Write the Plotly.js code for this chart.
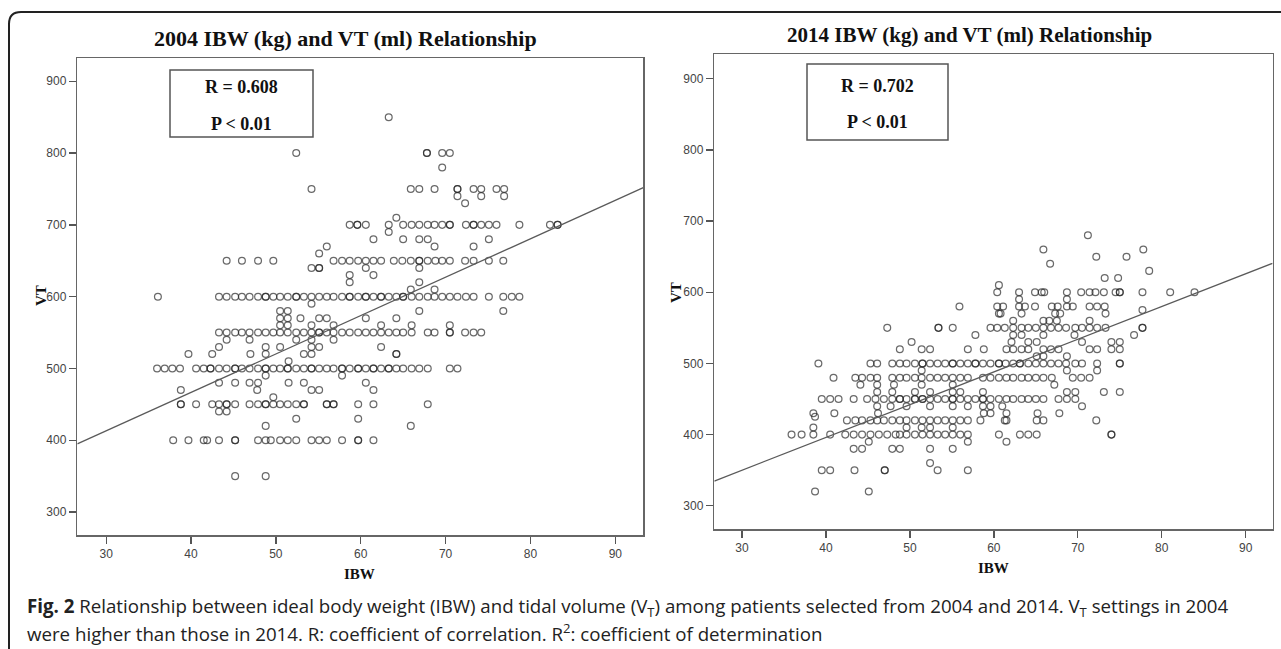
<!DOCTYPE html>
<html>
<head>
<meta charset="utf-8">
<script src="https://cdn.plot.ly/plotly-3.0.1.min.js"></script>
<style>html,body{margin:0;padding:0;background:#fff;}#chart{width:1281px;height:649px;}</style>
</head>
<body>
<div id="chart"></div>
<script>
// ---------- DATA ----------
const chartTitles = ["2004 IBW (kg) and VT (ml) Relationship", "2014 IBW (kg) and VT (ml) Relationship"];
const statR = ["R = 0.608", "R = 0.702"];
const statP = ["P < 0.01", "P < 0.01"];
const xTicks = [30, 40, 50, 60, 70, 80, 90];
const yTicks = [300, 400, 500, 600, 700, 800, 900];
const xTitle = "IBW";
const yTitle = "VT";
// fitted regression lines (intercept, slope)
const fitIntercept = [252.6, 212.0];
const fitSlope = [5.35, 4.60];

// 2004: VT levels and the IBW values found at each level
const vt2004Levels = [850, 800, 780, 750, 740, 730, 710, 700, 690, 680, 670, 660, 650, 640, 630, 620, 610, 600, 590, 580, 570, 560, 550, 540, 530, 520, 510, 500, 490, 480, 470, 460, 450, 440, 430, 420, 400, 350];
const ibw2004ByLevel = [
  [63.3],
  [52.4, 67.8, 67.8, 69.6, 70.5],
  [69.6],
  [54.2, 65.9, 66.9, 68.7, 71.4, 71.4, 73.3, 74.2, 76.0, 76.9],
  [71.4, 74.2, 76.9],
  [72.3],
  [64.2],
  [58.7, 59.6, 59.6, 60.6, 63.3, 65.0, 66.0, 66.9, 67.9, 68.7, 69.6, 70.5, 70.5, 72.4, 73.3, 73.3, 74.2, 75.1, 76.0, 78.7, 82.3, 83.2, 83.2],
  [63.3],
  [61.5, 65.0, 66.9, 67.9, 75.1],
  [56.0, 68.7, 73.3],
  [55.1],
  [44.2, 46.0, 47.9, 49.7, 56.8, 57.8, 58.7, 59.7, 60.6, 61.5, 62.4, 63.9, 64.9, 65.9, 66.9, 66.9, 67.9, 68.8, 69.6, 70.5, 72.3, 73.3, 75.1, 76.8],
  [54.2, 55.1, 55.1, 60.6, 66.9],
  [58.7, 61.5],
  [58.7, 66.9],
  [65.9, 68.7],
  [36.1, 43.3, 44.2, 45.2, 46.0, 46.9, 47.9, 48.8, 48.8, 49.7, 50.5, 51.4, 52.4, 52.4, 53.3, 54.2, 55.1, 56.0, 56.8, 57.8, 58.7, 58.7, 59.7, 60.6, 60.6, 61.5, 62.4, 62.4, 63.3, 64.2, 65.0, 65.0, 66.0, 66.9, 67.9, 68.7, 69.6, 70.5, 71.4, 72.4, 73.3, 75.1, 76.8, 77.8, 78.7],
  [54.2],
  [50.5, 51.4, 66.9, 76.8],
  [50.5, 51.4, 52.9, 55.1, 56.0, 60.6, 64.2],
  [50.5, 51.4, 54.2, 56.8, 62.4, 66.0, 70.5],
  [43.3, 44.2, 45.2, 46.0, 46.9, 47.9, 48.8, 49.7, 50.5, 51.4, 52.4, 53.3, 54.2, 55.1, 55.1, 56.0, 56.8, 57.8, 58.7, 59.7, 60.6, 61.5, 62.4, 63.3, 64.2, 65.0, 66.0, 67.9, 68.7, 70.5, 70.5, 72.3, 73.3, 74.2],
  [44.2, 46.9, 52.4, 54.2, 56.8],
  [43.3, 48.8, 50.5, 54.2, 55.1, 62.4],
  [39.7, 42.5, 47.0, 48.8, 53.3, 54.2, 64.2, 64.2],
  [51.5],
  [36.0, 36.9, 37.8, 38.7, 40.6, 41.5, 42.3, 42.3, 43.3, 44.2, 45.2, 45.2, 46.0, 46.9, 47.9, 48.8, 48.8, 49.7, 50.5, 51.4, 51.4, 52.4, 53.3, 54.2, 54.2, 55.1, 56.0, 56.8, 57.8, 57.8, 58.7, 59.7, 59.7, 60.6, 61.5, 61.5, 62.4, 63.3, 63.3, 64.2, 65.0, 66.0, 66.9, 67.9, 70.5, 71.4],
  [48.8, 57.8],
  [43.3, 45.2, 46.9, 47.9, 51.5, 53.3, 60.6],
  [38.8, 47.8, 54.2, 55.1, 61.5],
  [49.7],
  [38.8, 38.8, 40.6, 42.5, 43.3, 44.2, 44.2, 45.2, 46.9, 47.9, 48.8, 48.8, 49.7, 50.5, 51.4, 52.4, 53.3, 53.3, 56.0, 56.0, 56.8, 56.8, 59.7, 61.5, 67.9],
  [43.3, 44.2],
  [52.4, 59.7],
  [48.8, 65.9],
  [37.9, 39.7, 41.5, 41.9, 43.3, 45.2, 45.2, 47.9, 48.8, 49.4, 50.5, 51.4, 52.4, 54.2, 55.1, 56.0, 57.8, 59.7, 59.7, 61.5],
  [45.2, 48.8]
];

// 2014: VT levels and the IBW values found at each level
const vt2014Levels = [680, 660, 650, 640, 630, 620, 610, 600, 590, 580, 575, 570, 560, 550, 540, 530, 520, 510, 500, 490, 480, 470, 460, 450, 440, 430, 425, 420, 410, 400, 390, 380, 360, 350, 320];
const ibw2014ByLevel = [
  [71.2],
  [65.9, 77.8],
  [72.2, 75.8],
  [66.7],
  [78.5],
  [73.2, 74.8],
  [60.6],
  [60.4, 63.0, 64.9, 65.7, 66.0, 68.7, 70.4, 71.4, 72.1, 73.1, 74.5, 75.0, 75.0, 77.7, 81.0, 83.9],
  [63.0, 68.7],
  [55.9, 60.4, 61.1, 63.0, 63.7, 64.9, 66.9, 67.6, 68.7, 69.4, 71.4, 72.3, 73.2],
  [77.7],
  [60.6, 60.8, 63.3, 67.3, 67.9, 73.3],
  [62.3, 65.9, 66.6, 67.5, 71.4],
  [47.3, 53.4, 53.4, 55.1, 59.6, 60.4, 61.3, 62.3, 63.3, 64.1, 65.0, 65.9, 66.8, 67.7, 68.6, 69.7, 70.5, 71.4, 72.3, 73.3, 77.7, 77.7],
  [57.8, 62.3, 63.3, 65.9, 69.6, 76.7],
  [50.2, 62.1, 64.1, 65.1, 70.5, 74.0, 75.0],
  [48.8, 51.4, 52.4, 56.9, 58.8, 61.5, 62.3, 63.3, 64.1, 65.9, 66.8, 67.7, 71.4, 72.3, 74.0, 75.0],
  [65.1, 65.9, 68.7],
  [39.1, 45.3, 46.1, 47.9, 48.8, 49.6, 50.6, 51.5, 51.5, 52.4, 53.3, 54.2, 55.1, 55.1, 56.0, 56.9, 57.8, 57.8, 58.7, 59.6, 60.6, 60.6, 61.4, 62.3, 63.1, 63.1, 64.1, 65.0, 65.9, 66.8, 67.7, 68.6, 69.7, 70.5, 72.3, 75.0, 75.0],
  [51.4, 68.7, 72.3],
  [40.9, 43.5, 44.3, 45.3, 46.1, 47.9, 48.8, 49.6, 50.6, 51.4, 52.4, 53.3, 54.2, 55.1, 56.0, 56.9, 58.7, 59.6, 60.6, 61.5, 62.3, 63.3, 64.1, 65.0, 65.9, 66.9, 69.4, 70.4, 71.4],
  [44.1, 46.1, 48.1, 51.4, 55.1, 67.2],
  [46.1, 47.9, 50.6, 52.4, 55.1, 56.0, 58.7, 68.7, 69.7, 73.1, 75.0],
  [39.5, 40.5, 41.5, 43.3, 44.9, 45.9, 46.9, 47.9, 48.8, 48.8, 49.6, 50.6, 50.6, 51.5, 51.5, 52.4, 53.3, 54.2, 55.1, 55.1, 56.0, 56.9, 57.8, 58.7, 58.7, 59.6, 60.6, 61.5, 62.3, 63.3, 64.1, 65.0, 65.9, 67.7, 68.7, 69.7],
  [46.1, 47.7, 49.6, 52.4, 55.1, 56.9, 58.7, 59.6, 61.0, 70.5],
  [38.5, 41.0, 46.2, 58.8, 59.6, 61.5, 65.2, 67.8],
  [38.7],
  [42.5, 43.5, 44.3, 45.3, 46.1, 46.9, 47.9, 48.8, 49.6, 50.6, 51.5, 52.4, 53.3, 54.2, 55.1, 56.0, 56.9, 58.4, 61.3, 61.5, 65.1, 65.9, 72.2],
  [38.5, 49.6, 51.4, 52.4, 55.1],
  [35.9, 37.1, 38.5, 40.5, 42.3, 43.3, 44.3, 45.3, 46.3, 47.3, 48.3, 48.8, 49.6, 50.6, 51.5, 52.4, 53.3, 54.2, 55.1, 56.0, 56.9, 60.6, 63.1, 64.1, 65.1, 74.0, 74.0],
  [45.1, 56.9, 61.5],
  [43.3, 44.3, 47.9, 48.8, 52.4, 55.1],
  [52.4],
  [39.5, 40.5, 43.4, 47.0, 47.0, 53.3, 56.9],
  [38.7, 45.1]
];

const captionLine1 = "<b>Fig. 2</b> Relationship between ideal body weight (IBW) and tidal volume (V<sub>T</sub>) among patients selected from 2004 and 2014. V<sub>T</sub> settings in 2004";
const captionLine2 = "were higher than those in 2014. R: coefficient of correlation. R<sup>2</sup>: coefficient of determination";

// ---------- LAYOUT HELPERS ----------
const W = 1281, H = 649;
const px = v => v / W;
const py = v => 1 - v / H;

function flatten(levels, byLevel) {
  const xs = [], ys = [];
  levels.forEach((lv, i) => byLevel[i].forEach(x => { xs.push(x); ys.push(lv); }));
  return {xs, ys};
}

const d2004 = flatten(vt2004Levels, ibw2004ByLevel);
const d2014 = flatten(vt2014Levels, ibw2014ByLevel);

const xRanges = [[26.6, 93.3], [26.7, 93.2]];
const yRanges = [[268, 932], [267, 934.7]];

const markerStyle = {symbol: 'circle-open', size: 6.8, color: 'rgba(35,35,35,0.68)', line: {width: 1.25}};

const traces = [
  {type: 'scatter', mode: 'markers', x: d2004.xs, y: d2004.ys, xaxis: 'x', yaxis: 'y', marker: markerStyle, hoverinfo: 'x+y'},
  {type: 'scatter', mode: 'lines', x: xRanges[0], y: xRanges[0].map(x => fitIntercept[0] + fitSlope[0] * x), xaxis: 'x', yaxis: 'y', line: {color: '#5a5a5a', width: 1.3}},
  {type: 'scatter', mode: 'markers', x: d2014.xs, y: d2014.ys, xaxis: 'x2', yaxis: 'y2', marker: markerStyle, hoverinfo: 'x+y'},
  {type: 'scatter', mode: 'lines', x: xRanges[1], y: xRanges[1].map(x => fitIntercept[1] + fitSlope[1] * x), xaxis: 'x2', yaxis: 'y2', line: {color: '#5a5a5a', width: 1.3}}
];

const tickFont = {family: 'Liberation Sans Narrow, Arial Narrow, Liberation Sans, sans-serif', size: 12, color: '#444'};
function axis(domain, range, tickvals, anchor) {
  return {
    domain, range, tickvals, anchor, ticks: 'outside', ticklen: 7, tickwidth: 1.3, tickcolor: '#555',
    showline: true, linecolor: '#666', linewidth: 1.5, mirror: true, showgrid: false, zeroline: false,
    tickfont: tickFont, fixedrange: true
  };
}

const serif = 'Liberation Serif, Times New Roman, serif';
const ann = [];
function txt(x, y, text, size, opts) {
  ann.push(Object.assign({xref: 'paper', yref: 'paper', x: px(x), y: py(y), text, showarrow: false,
    xanchor: 'center', yanchor: 'middle', font: {family: serif, size, color: '#111'}}, opts || {}));
}
// chart titles
txt(345, 38, '<b>' + chartTitles[0] + '</b>', 22);
txt(970, 35, '<b>' + chartTitles[1] + '</b>', 21);
// stats boxes text
txt(241.5, 87, '<b>' + statR[0] + '</b>', 18);
txt(241.5, 124, '<b>' + statP[0] + '</b>', 18);
txt(877.5, 86, '<b>' + statR[1] + '</b>', 18);
txt(877.5, 122, '<b>' + statP[1] + '</b>', 18);
// axis titles
txt(359, 574, '<b>' + xTitle + '</b>', 15);
txt(993, 568, '<b>' + xTitle + '</b>', 15);
txt(41, 296, '<b>' + yTitle + '</b>', 15, {textangle: -90});
txt(676, 293, '<b>' + yTitle + '</b>', 15, {textangle: -90});
// caption
const capFont = {family: 'Open Sans, Noto Sans, sans-serif', size: 18.7, color: '#222'};
ann.push({xref: 'paper', yref: 'paper', x: px(25), y: py(607), text: captionLine1, showarrow: false, xanchor: 'left', yanchor: 'middle', font: capFont});
ann.push({xref: 'paper', yref: 'paper', x: px(25), y: py(632), text: captionLine2, showarrow: false, xanchor: 'left', yanchor: 'middle', font: capFont});

const shapes = [
  {type: 'rect', xref: 'paper', yref: 'paper', x0: px(170), x1: px(313), y0: py(70), y1: py(137), line: {color: '#555', width: 1.5}},
  {type: 'rect', xref: 'paper', yref: 'paper', x0: px(807), x1: px(948), y0: py(64), y1: py(140), line: {color: '#555', width: 1.5}},
  {type: 'path', xref: 'paper', yref: 'paper',
   path: `M ${px(9)},${py(660)} L ${px(9)},${py(24)} Q ${px(9)},${py(12)} ${px(21)},${py(12)} L ${px(1290)},${py(12)}`,
   line: {color: '#222', width: 2}}
];

const layout = {
  width: W, height: H, margin: {l: 0, r: 0, t: 0, b: 0},
  paper_bgcolor: '#fff', plot_bgcolor: '#fff', showlegend: false,
  xaxis: axis([px(77.3), px(643.3)], xRanges[0], xTicks, 'y'),
  yaxis: axis([py(535), py(58.3)], yRanges[0], yTicks, 'x'),
  xaxis2: axis([px(714.3), px(1272.6)], xRanges[1], xTicks, 'y2'),
  yaxis2: axis([py(529.3), py(54)], yRanges[1], yTicks, 'x2'),
  annotations: ann,
  shapes: shapes
};

Plotly.newPlot('chart', traces, layout, {displayModeBar: false, staticPlot: true});
</script>
</body>
</html>
